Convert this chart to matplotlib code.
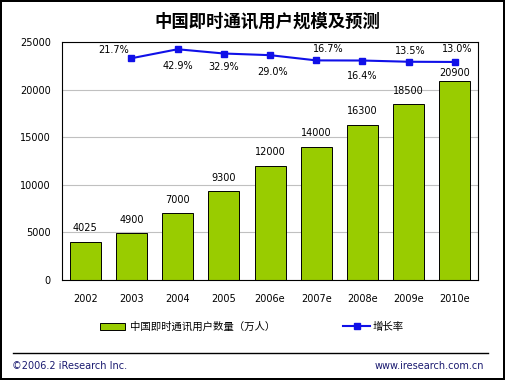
import numpy as np
import matplotlib
matplotlib.use('Agg')
from matplotlib import pyplot as plt
from matplotlib.patches import Patch
from matplotlib.lines import Line2D

plt.rcParams['font.family'] = ['DejaVu Sans', 'Noto Sans CJK SC']

years = ['2002', '2003', '2004', '2005', '2006e', '2007e', '2008e', '2009e', '2010e']
users = [4025, 4900, 7000, 9300, 12000, 14000, 16300, 18500, 20900]
growth = [21.7, 42.9, 32.9, 29.0, 16.7, 16.4, 13.5, 13.0]   # 2003 起
growth_labels = ['21.7%', '42.9%', '32.9%', '29.0%', '16.7%', '16.4%', '13.5%', '13.0%']

green = '#99CC00'
blue = '#1010E8'
navy = '#1a1a70'
cjk = ['Noto Sans CJK SC', 'DejaVu Sans']

fig = plt.figure(figsize=(5.05, 3.8), dpi=100)
fig.patch.set_facecolor('white')
fig.patch.set_edgecolor('black')
fig.patch.set_linewidth(1.5)

ax = fig.add_axes([0.1228, 0.2632, 0.8238, 0.6263])
x = np.arange(len(years))
ax.bar(x, users, width=0.67, color=green, edgecolor='black', linewidth=0.7, zorder=2)
ax.set_xlim(-0.5, 8.5)
ax.set_ylim(0, 25000)
ax.set_yticks(np.arange(0, 25001, 5000))
ax.set_xticks(x)
ax.set_xticklabels(years)
ax.grid(axis='y', color='#c0c0c0', linewidth=0.8, zorder=0)
ax.tick_params(axis='both', length=0, labelsize=7)
ax.tick_params(axis='y', pad=8)
ax.tick_params(axis='x', pad=10)
for s in ax.spines.values():
    s.set_linewidth(0.8)

# 柱上数值
bar_dy = [6, 6, 6, 6, 6, 6, 6, 6, 2]
for xi, v, dy in zip(x, users, bar_dy):
    ax.annotate(str(v), (xi, v), xytext=(0, dy), textcoords='offset points',
                ha='center', va='bottom', fontsize=7)

# 增长率
ax2 = ax.twinx()
ax2.set_ylim(-500, 60)
ax2.axis('off')
gx = x[1:]
ax2.plot(gx, growth, color=blue, linewidth=1.5, marker='s', markersize=4, zorder=3)
lab_off = [(-13, 6), (0, -12), (0, -10), (2, -12), (9, 8), (0, -11), (1, 8), (2, 9)]
for xi, v, t, (dx, dy) in zip(gx, growth, growth_labels, lab_off):
    ax2.annotate(t, (xi, v), xytext=(dx, dy), textcoords='offset points',
                 ha='center', va='center', fontsize=7)

fig.text(0.53, 0.942, '中国即时通讯用户规模及预测', ha='center', va='center',
         fontsize=12.5, fontweight='bold', family=cjk)

h1 = Patch(facecolor=green, edgecolor='black', linewidth=0.7)
h2 = Line2D([], [], color=blue, linewidth=1.5, marker='s', markersize=4)
leg1 = fig.legend([h1], ['中国即时通讯用户数量（万人）'], loc='center left',
                  bbox_to_anchor=(100 / 505, 1 - 327 / 380), frameon=False,
                  prop={'family': cjk, 'size': 7.5}, handlelength=2.4, handleheight=0.7,
                  handletextpad=0.5, borderpad=0, borderaxespad=0)
leg2 = fig.legend([h2], ['增长率'], loc='center left',
                  bbox_to_anchor=(343 / 505, 1 - 327 / 380), frameon=False,
                  prop={'family': cjk, 'size': 7.5}, handlelength=2.6,
                  handletextpad=0.2, borderpad=0, borderaxespad=0)

fig.add_artist(Line2D([13 / 505, 488 / 505], [1 - 353 / 380] * 2, color='black', linewidth=1))
fig.text(12 / 505, 1 - 366 / 380, '©2006.2 iResearch Inc.', ha='left', va='center',
         fontsize=7, color=navy)
fig.text(484 / 505, 1 - 366 / 380, 'www.iresearch.com.cn', ha='right', va='center',
         fontsize=7, color=navy)

fig.savefig('out.png', dpi=100)
